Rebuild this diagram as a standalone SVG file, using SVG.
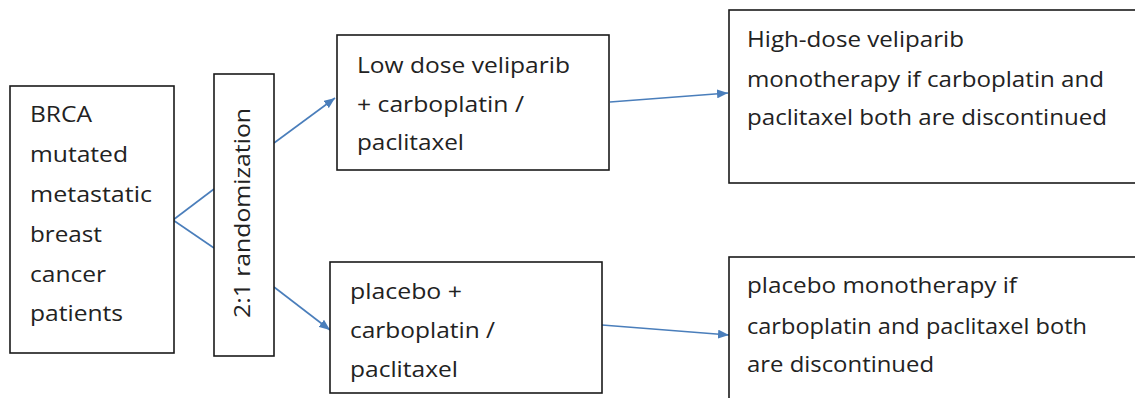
<svg xmlns="http://www.w3.org/2000/svg" width="1135" height="398" viewBox="0 0 1135 398">
  <style>
    .box { fill: #ffffff; stroke: #1a1a1a; stroke-width: 1.6; }
    .t { font-family: "Open Sans", "Liberation Sans", sans-serif; font-size: 22px; fill: #222222; }
    .c { fill: none; stroke: #4a7ebb; stroke-width: 1.6; }
  </style>
  <defs>
    <marker id="ah" markerUnits="userSpaceOnUse" markerWidth="11" markerHeight="9" refX="11" refY="4.5" orient="auto">
      <path d="M0,0 L11,4.5 L0,9 z" fill="#4a7ebb"/>
    </marker>
  </defs>
  <rect width="1135" height="398" fill="#ffffff"/>

  <g id="connectors">
    <line class="c" x1="173" y1="220" x2="214" y2="189"/>
    <line class="c" x1="173" y1="220" x2="214" y2="248"/>
    <line class="c" x1="274" y1="143" x2="335" y2="98" marker-end="url(#ah)"/>
    <line class="c" x1="274" y1="287" x2="330" y2="330" marker-end="url(#ah)"/>
    <line class="c" x1="610" y1="102" x2="728" y2="93" marker-end="url(#ah)"/>
    <line class="c" x1="602" y1="325" x2="729" y2="335" marker-end="url(#ah)"/>
  </g>

  <g id="patients">
    <rect class="box" x="10" y="86" width="164" height="267"/>
    <text class="t" x="30" y="122" textLength="62" lengthAdjust="spacingAndGlyphs">BRCA</text>
    <text class="t" x="30" y="162" textLength="98" lengthAdjust="spacingAndGlyphs">mutated</text>
    <text class="t" x="30" y="202" textLength="122" lengthAdjust="spacingAndGlyphs">metastatic</text>
    <text class="t" x="30" y="242" textLength="72" lengthAdjust="spacingAndGlyphs">breast</text>
    <text class="t" x="30" y="282" textLength="76" lengthAdjust="spacingAndGlyphs">cancer</text>
    <text class="t" x="30" y="321" textLength="93" lengthAdjust="spacingAndGlyphs">patients</text>
  </g>

  <g id="randomization">
    <rect class="box" x="214" y="74" width="60" height="282"/>
    <text class="t" transform="translate(250,318) rotate(-90)" x="0" y="0" textLength="210" lengthAdjust="spacingAndGlyphs">2:1 randomization</text>
  </g>

  <g id="lowdose">
    <rect class="box" x="337" y="35" width="272" height="135"/>
    <text class="t" x="357" y="73" textLength="213" lengthAdjust="spacingAndGlyphs">Low dose veliparib</text>
    <text class="t" x="357" y="112" textLength="167" lengthAdjust="spacingAndGlyphs">+ carboplatin /</text>
    <text class="t" x="357" y="150" textLength="107" lengthAdjust="spacingAndGlyphs">paclitaxel</text>
  </g>

  <g id="placebo">
    <rect class="box" x="330" y="262" width="272" height="131"/>
    <text class="t" x="350" y="299" textLength="112" lengthAdjust="spacingAndGlyphs">placebo +</text>
    <text class="t" x="350" y="338" textLength="145" lengthAdjust="spacingAndGlyphs">carboplatin /</text>
    <text class="t" x="350" y="377" textLength="108" lengthAdjust="spacingAndGlyphs">paclitaxel</text>
  </g>

  <g id="highdose">
    <rect class="box" x="729" y="10" width="420" height="173"/>
    <text class="t" x="747" y="47" textLength="217" lengthAdjust="spacingAndGlyphs">High-dose veliparib</text>
    <text class="t" x="747" y="87" textLength="357" lengthAdjust="spacingAndGlyphs">monotherapy if carboplatin and</text>
    <text class="t" x="747" y="125" textLength="360" lengthAdjust="spacingAndGlyphs">paclitaxel both are discontinued</text>
  </g>

  <g id="placebomono">
    <rect class="box" x="729" y="257" width="420" height="160"/>
    <text class="t" x="747" y="293" textLength="270" lengthAdjust="spacingAndGlyphs">placebo monotherapy if</text>
    <text class="t" x="747" y="334" textLength="340" lengthAdjust="spacingAndGlyphs">carboplatin and paclitaxel both</text>
    <text class="t" x="747" y="372" textLength="187" lengthAdjust="spacingAndGlyphs">are discontinued</text>
  </g>
</svg>
